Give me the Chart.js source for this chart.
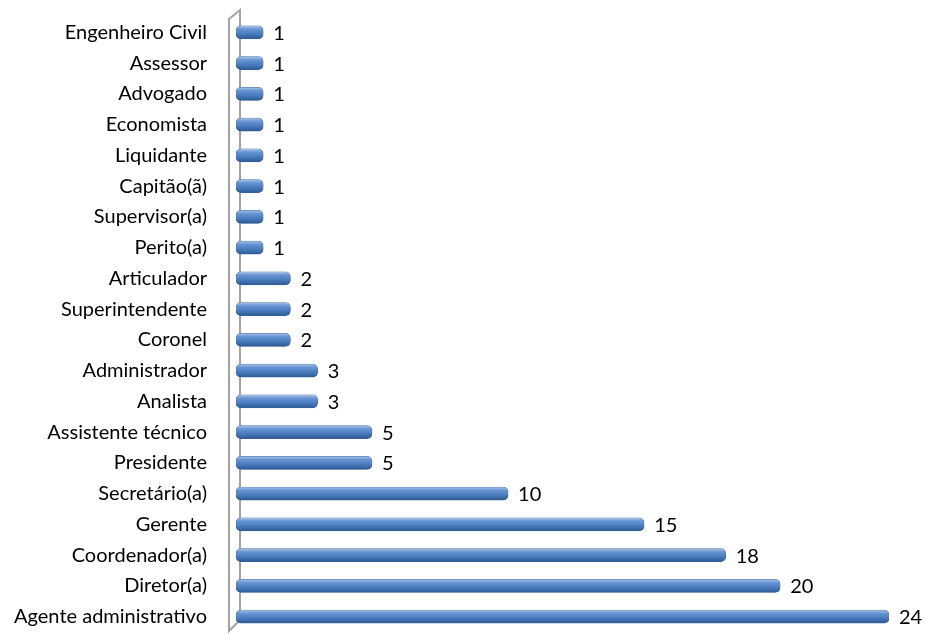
<!DOCTYPE html>
<html>
<head>
<meta charset="utf-8">
<script src="https://cdn.jsdelivr.net/npm/chart.js@4"></script>
<style>
  html, body { margin: 0; padding: 0; background: #fff; }
  #wrap { width: 927px; height: 635px; }
</style>
</head>
<body>
<div id="wrap"><canvas id="myChart"></canvas></div>
<script>
// categories, top to bottom
const cargos = [
    'Engenheiro Civil', 'Assessor', 'Advogado', 'Economista', 'Liquidante',
    'Capitão(ã)', 'Supervisor(a)', 'Perito(a)', 'Articulador', 'Superintendente',
    'Coronel', 'Administrador', 'Analista', 'Assistente técnico', 'Presidente',
    'Secretário(a)', 'Gerente', 'Coordenador(a)', 'Diretor(a)', 'Agente administrativo'
];
const quantidade = [1, 1, 1, 1, 1, 1, 1, 1, 2, 2, 2, 3, 3, 5, 5, 10, 15, 18, 20, 24];

const labelFont = '20px Lato';

// 3d-ish wall behind the category axis
const wallPlugin = {
    id: 'wall',
    beforeDatasetsDraw(chart) {
        const c = chart.ctx;
        const a = chart.chartArea;
        const x1 = a.left - 7, x2 = a.left + 4;
        c.save();
        c.strokeStyle = '#a3a3a3';
        c.lineWidth = 2;
        c.beginPath();
        c.moveTo(x2, a.bottom - 12);
        c.lineTo(x1, a.bottom - 1);
        c.lineTo(x1, a.top + 2);
        c.lineTo(x2, a.top - 7);
        c.lineTo(x2, a.bottom - 12);
        c.stroke();
        c.restore();
    }
};

// value labels at the end of each bar
const valuePlugin = {
    id: 'values',
    afterDatasetsDraw(chart) {
        const c = chart.ctx;
        const meta = chart.getDatasetMeta(0);
        c.save();
        c.font = labelFont;
        c.fillStyle = '#000';
        c.textBaseline = 'middle';
        c.textAlign = 'left';
        meta.data.forEach((bar, i) => {
            c.fillText(quantidade[i], bar.x + 10, bar.y + 1);
        });
        c.restore();
    }
};

function barFill(ctx) {
    const chart = ctx.chart;
    const ys = chart.scales && chart.scales.y;
    const y = ys ? ys.getPixelForValue(ctx.dataIndex) : NaN;
    if (!isFinite(y)) return '#4f81bd';
    const g = chart.ctx.createLinearGradient(0, y - 6.5, 0, y + 6.5);
    g.addColorStop(0, '#a9c4e8');
    g.addColorStop(0.25, '#6894d2');
    g.addColorStop(0.6, '#4a7cbf');
    g.addColorStop(1, '#2e5a92');
    return g;
}

var ctx = document.getElementById('myChart').getContext('2d');
var myChart = new Chart(ctx, {
    type: 'bar',
    data: {
        labels: cargos,
        datasets: [{
            data: quantidade,
            backgroundColor: barFill,
            borderColor: '#3a659c',
            borderWidth: 0.5,
            borderRadius: 5,
            borderSkipped: false,
            barThickness: 13
        }]
    },
    options: {
        indexAxis: 'y',
        responsive: true,
        maintainAspectRatio: false,
        animation: false,
        layout: { padding: { top: 17, bottom: 3, right: 38, left: 0 } },
        plugins: {
            legend: { display: false },
            tooltip: { enabled: false }
        },
        scales: {
            x: {
                display: false,
                min: 0,
                max: 24
            },
            y: {
                grid: { display: false },
                border: { display: false },
                ticks: {
                    color: '#000',
                    font: { family: 'Lato', size: 20 },
                    padding: 21,
                    autoSkip: false
                },
                afterFit(scale) {
                    scale.width = 236;
                    scale.paddingTop = 0;
                    scale.paddingBottom = 0;
                }
            }
        }
    },
    plugins: [wallPlugin, valuePlugin]
});
</script>
</body>
</html>
